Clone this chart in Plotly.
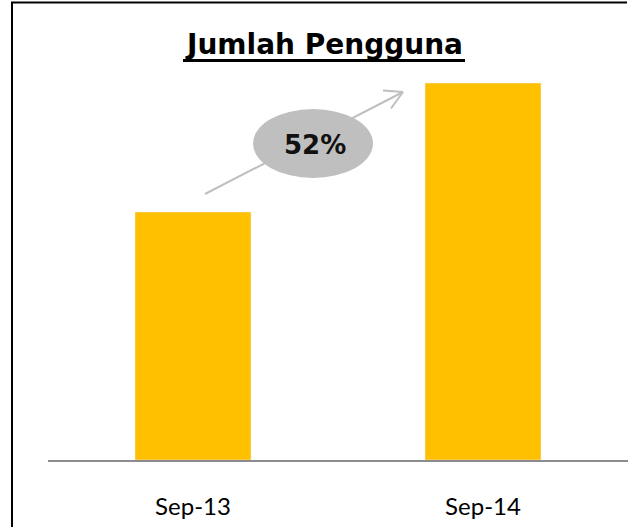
import plotly.graph_objects as go

categories = ["Sep-13", "Sep-14"]
users = [100, 152]
growth_label = "52%"
title_text = "Jumlah Pengguna"

W, H = 628, 527
ML, MR, MT, MB = 48, 0, 20, 67
PW, PH = W - ML - MR, H - MT - MB


def px(x):
    return (x - ML) / PW


def py(y):
    return (H - MB - y) / PH


fig = go.Figure(go.Bar(
    x=categories, y=users, marker_color="#FFC000", width=0.4,
    hoverinfo="x+y",
))

shapes = []
# outer frame as a path (left and top edges only)
shapes.append(dict(type="path", xref="paper", yref="paper",
                   path="M {:.5f},{:.5f} L {:.5f},{:.5f} L {:.5f},{:.5f}".format(
                       px(12), py(540), px(12), py(2.5), px(627), py(2.5)),
                   line=dict(color="black", width=2), layer="above"))
# title underline
shapes.append(dict(type="line", xref="paper", yref="paper",
                   x0=px(183), x1=px(465), y0=py(60.5), y1=py(60.5),
                   line=dict(color="black", width=3)))
# arrow shaft
shapes.append(dict(type="line", xref="paper", yref="paper",
                   x0=px(205), y0=py(194), x1=px(403), y1=py(92),
                   line=dict(color="#BFBFBF", width=2)))
# arrow head (open)
for wx, wy in [(383, 90.5), (391, 108.5)]:
    shapes.append(dict(type="line", xref="paper", yref="paper",
                       x0=px(403), y0=py(92), x1=px(wx), y1=py(wy),
                       line=dict(color="#BFBFBF", width=2)))
# ellipse
shapes.append(dict(type="circle", xref="paper", yref="paper",
                   x0=px(253), x1=px(373), y0=py(178), y1=py(109),
                   fillcolor="#BFBFBF", line=dict(width=0)))

annotations = [
    dict(text="<b>" + title_text + "</b>", xref="paper", yref="paper",
         x=px(324), y=py(44),
         showarrow=False, xanchor="center", yanchor="middle",
         font=dict(family="DejaVu Sans", size=28, color="black")),
    dict(text="<b>" + growth_label + "</b>", xref="paper", yref="paper",
         x=px(315), y=py(145), showarrow=False, xanchor="center", yanchor="middle",
         font=dict(family="DejaVu Sans", size=26, color="#111111")),
]

fig.update_layout(
    width=W, height=H,
    margin=dict(l=ML, r=MR, t=MT, b=MB, pad=0),
    paper_bgcolor="white", plot_bgcolor="white",
    showlegend=False,
    shapes=shapes, annotations=annotations,
    xaxis=dict(type="category", range=[-0.5, 1.5], showline=True,
               linecolor="#8C8C8C", linewidth=2, showgrid=False, ticks="",
               ticklabelstandoff=24,
               tickfont=dict(family="Lato", size=24, color="black")),
    yaxis=dict(range=[0, PH / 2.48], visible=False, showgrid=False,
               zeroline=False),
)

post = (
    "document.documentElement.style.overflow='hidden';"
    "document.body.style.margin='0';"
    "document.body.style.overflow='hidden';"
    "var d=document.getElementById('{plot_id}');"
    "d.style.position='fixed';d.style.left='0px';d.style.top='0px';"
)
fig.write_html("out.html", config={"displayModeBar": False}, post_script=post)
